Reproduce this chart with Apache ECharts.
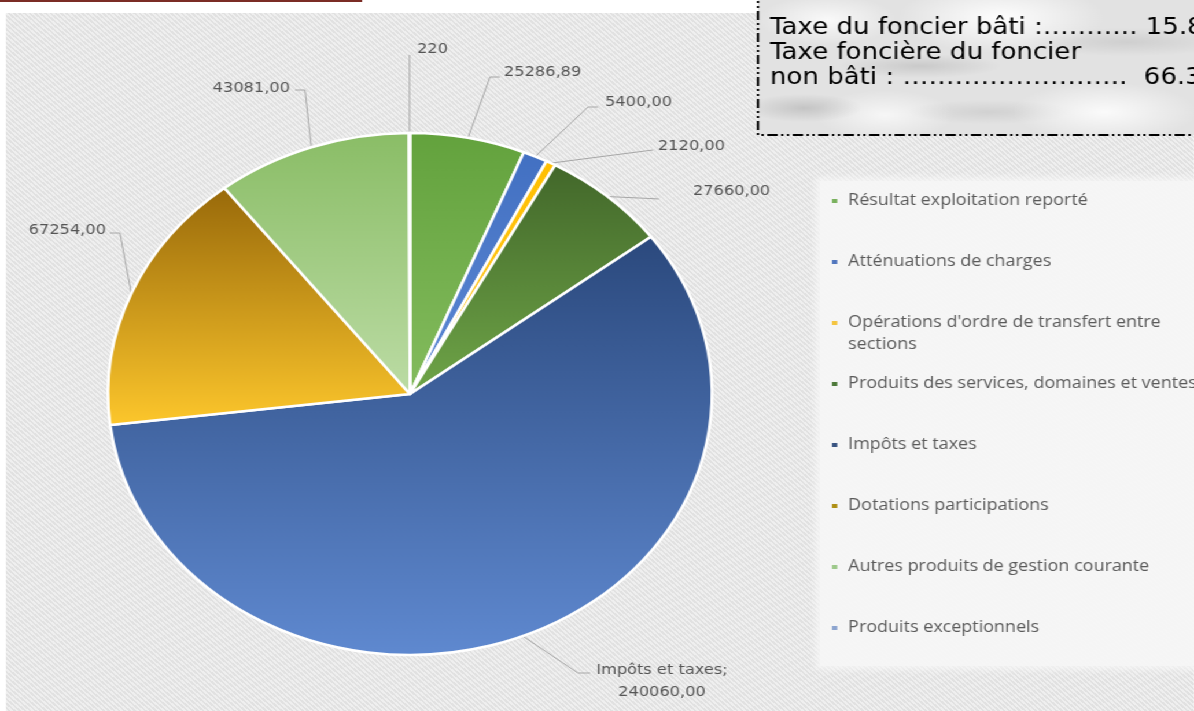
<!DOCTYPE html>
<html>
<head>
<meta charset="utf-8">
<script src="https://cdn.jsdelivr.net/npm/echarts@6.0.0/dist/echarts.min.js"></script>
<style>
  html, body { margin: 0; padding: 0; width: 1194px; height: 711px; overflow: hidden; background: #ffffff; }
  /* the reference picture is stretched horizontally: draw at inner width and stretch the whole stage */
  #stage { position: absolute; left: 0; top: 0; width: 1032px; height: 711px; transform: scaleX(1.157); transform-origin: 0 0; }
  #bg { position: absolute; left: 5px; top: 13px; right: 0; bottom: 0;
        background: repeating-linear-gradient(45deg, #efefef 0px, #efefef 1.6px, #e1e1e1 1.6px, #e1e1e1 3.2px); }
  #panel { position: absolute; left: 708px; top: 181px; width: 330px; height: 485px;
           background: rgba(247,247,247,0.88); box-shadow: 0 0 6px 4px rgba(247,247,247,0.75); }
  #marble { position: absolute; left: 655px; top: 0; width: 380px; height: 135px;
    background:
      radial-gradient(ellipse 50px 14px at 40px 108px, rgba(120,120,120,0.28), rgba(120,120,120,0)),
      radial-gradient(ellipse 90px 35px at 210px 18px, rgba(255,255,255,0.95), rgba(255,255,255,0)),
      radial-gradient(ellipse 80px 30px at 300px 112px, rgba(255,255,255,0.85), rgba(255,255,255,0)),
      radial-gradient(ellipse 70px 12px at 140px 66px, rgba(130,130,130,0.25), rgba(130,130,130,0)),
      radial-gradient(ellipse 90px 14px at 320px 42px, rgba(140,140,140,0.22), rgba(140,140,140,0)),
      radial-gradient(ellipse 60px 25px at 60px 20px, rgba(255,255,255,0.8), rgba(255,255,255,0)),
      radial-gradient(ellipse 70px 12px at 200px 112px, rgba(150,150,150,0.22), rgba(150,150,150,0)),
      radial-gradient(ellipse 60px 25px at 110px 115px, rgba(255,255,255,0.7), rgba(255,255,255,0)),
      #e2e2e2; }
  #rule { position: absolute; left: 0; top: 0; width: 313px; height: 1.6px; background: #7b2c25; }
  #chart { position: absolute; left: 0; top: 0; width: 1032px; height: 711px; }
</style>
</head>
<body>
<div id="stage">
  <div id="bg"></div>
  <div id="panel"></div>
  <div id="marble"></div>
  <div id="rule"></div>
  <div id="chart"></div>
</div>
<script>
// ---------------- data ----------------
const categories = [
  'Résultat exploitation reporté',
  'Atténuations de charges',
  "Opérations d'ordre de transfert entre sections",
  'Produits des services, domaines et ventes',
  'Impôts et taxes',
  'Dotations participations',
  'Autres produits de gestion courante',
  'Produits exceptionnels'
];
const values = [25286.89, 5400, 2120, 27660, 240060, 67254, 43081, 220];
const labelDecimals = [2, 2, 2, 2, 2, 2, 2, 0];
const labelWithName = [false, false, false, false, true, false, false, false];
const boxLines = [
  'Taxe du foncier bâti :\u2026\u2026\u2026.. 15.8',
  'Taxe foncière du foncier',
  'non bâti : \u2026\u2026\u2026\u2026\u2026\u2026\u2026\u2026..  66.3'
];

// ---------------- styles ----------------
const sliceTop    = ['#63a23d', '#4270c2', '#ffbf00', '#42672a', '#2b497d', '#98690a', '#8abd66', '#8ea9db'];
const sliceBottom = ['#84bc5e', '#5d89d4', '#ffc826', '#6fa548', '#5f89d0', '#fdc72c', '#bcdca5', '#8ea9db'];
const legendColors = ['#78b05c', '#5075bd', '#f4c43e', '#4b7838', '#37527f', '#ad8e12', '#9cc88a', '#8ca4cf'];

const S = 1.157;               // horizontal stretch of the reference picture
const X = v => v / S;          // screen x -> inner x

// label layout in screen pixels: text x, text y, align, elbow x, elbow y, end x, end y
const labelSpots = [
  [504, 72, 'left', 490, 77, 500, 77],
  [605, 102, 'left', 588, 107, 598, 107],
  [658, 146, 'left', 645, 151, 653, 150],
  [693, 191, 'left', 650, 198.5, 659, 199],
  [662, 681, 'center', 578, 673, 590, 673],
  [106, 230, 'right', 120, 233, 110, 233],
  [290, 88, 'right', 305, 90, 295, 90],
  [417, 49, 'left', 409.5, 58, 409.5, 55]
];
const legendCenters = [199, 260, 321, 382, 443, 504, 565, 626];

const pieCenter = [X(410), 394];
const pieRadius = 261;

function grad(i) {
  return { type: 'linear', x: 0, y: 0, x2: 0, y2: 1,
           colorStops: [{ offset: 0, color: sliceTop[i] }, { offset: 1, color: sliceBottom[i] }] };
}

const total = values.reduce((a, b) => a + b, 0);
function edgePoint(idx) {
  let before = 0;
  for (let k = 0; k < idx; k++) before += values[k];
  const a = (before + values[idx] / 2) / total * Math.PI * 2;
  return [pieCenter[0] + pieRadius * Math.sin(a), pieCenter[1] - pieRadius * Math.cos(a)];
}

// the two-line legend entry keeps its marker level with its first line
const topMarker = 'path://M0,0h4.5v4h-4.5z M0,25.99h0.01v0.01h-0.01z';

const legends = categories.map((name, i) => {
  const isWrap = i === 2;
  return {
    show: true,
    orient: 'vertical',
    left: X(832),
    top: legendCenters[i] - 9,
    padding: 0,
    itemWidth: 4.5,
    itemHeight: isWrap ? 26 : 4,
    icon: isWrap ? topMarker : 'rect',
    selectedMode: false,
    itemStyle: { color: legendColors[i], borderWidth: 0 },
    data: [{ name: name, itemStyle: { color: legendColors[i], borderWidth: 0 } }],
    textStyle: Object.assign({
      fontFamily: '"Open Sans"',
      fontSize: 15.5,
      color: '#5a5a5a',
      lineHeight: 22,
      padding: [0, 0, 0, 4.5]
    }, isWrap ? { width: 290, overflow: 'break' } : {})
  };
});

const chart = echarts.init(document.getElementById('chart'), null, { renderer: 'canvas' });
chart.setOption({
  animation: false,
  backgroundColor: 'transparent',
  textStyle: { fontFamily: '"DejaVu Sans"' },
  legend: legends,
  graphic: [
    { type: 'rect', silent: true, z: 10,
      shape: { x: X(758), y: -10, width: 420, height: 145 },
      style: { fill: 'transparent', stroke: '#000', lineWidth: 2, lineDash: [9, 3, 2, 3, 2, 3] } },
    { type: 'text', silent: true, z: 11, x: X(770), y: 28,
      style: { text: boxLines[0], fontFamily: '"DejaVu Sans"', fontSize: 22.5, fill: '#000', verticalAlign: 'middle' } },
    { type: 'text', silent: true, z: 11, x: X(770), y: 53,
      style: { text: boxLines[1], fontFamily: '"DejaVu Sans"', fontSize: 22.5, fill: '#000', verticalAlign: 'middle' } },
    { type: 'text', silent: true, z: 11, x: X(770), y: 78,
      style: { text: boxLines[2], fontFamily: '"DejaVu Sans"', fontSize: 22.5, fill: '#000', verticalAlign: 'middle' } }
  ],
  series: [{
    type: 'pie',
    center: pieCenter,
    radius: pieRadius,
    startAngle: 90,
    clockwise: true,
    avoidLabelOverlap: false,
    emphasis: { disabled: true },
    itemStyle: { borderColor: '#ffffff', borderWidth: 2.5 },
    label: {
      show: true,
      position: 'outside',
      fontFamily: '"DejaVu Sans"',
      fontSize: 14,
      lineHeight: 22,
      color: '#555555',
      formatter: p => {
        const s = p.value.toFixed(labelDecimals[p.dataIndex]).replace('.', ',');
        return labelWithName[p.dataIndex] ? p.name + ';\n' + s : s;
      }
    },
    labelLine: { show: true, length: 20, length2: 10, smooth: false,
                 lineStyle: { color: '#a6a6a6', width: 1 } },
    labelLayout: p => {
      const s = labelSpots[p.dataIndex];
      const p0 = (p.labelLinePoints && p.labelLinePoints[0]) ? p.labelLinePoints[0] : edgePoint(p.dataIndex);
      return {
        x: X(s[0]), y: s[1], align: s[2], verticalAlign: 'middle',
        labelLinePoints: [p0, [X(s[3]), s[4]], [X(s[5]), s[6]]]
      };
    },
    data: categories.map((name, i) => ({ name: name, value: values[i], itemStyle: { color: grad(i) } }))
  }]
});
</script>
</body>
</html>
